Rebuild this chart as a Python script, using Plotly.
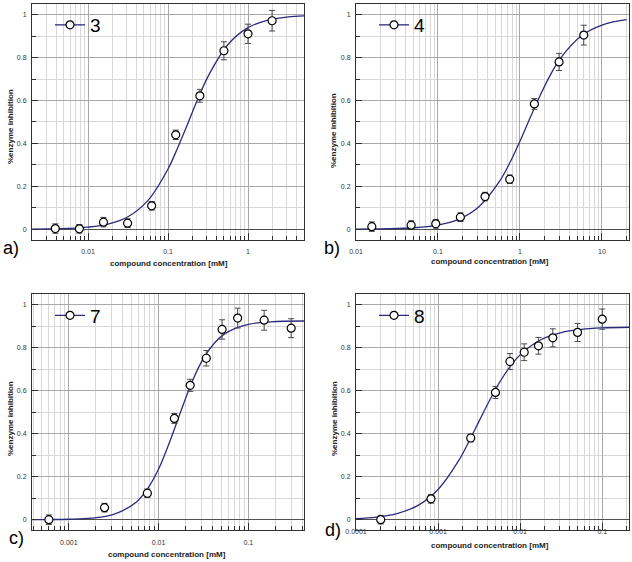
import plotly.graph_objects as go

W, H = 632, 562

# ---------------- data ----------------
# panel a (compound 3)
a_x = [0.0039, 0.0078, 0.0156, 0.03125, 0.0625, 0.125, 0.25, 0.5, 1.0, 2.0]
a_y = [0.003, 0.002, 0.033, 0.028, 0.109, 0.44, 0.622, 0.832, 0.911, 0.972]
a_err = [0.022, 0.02, 0.022, 0.02, 0.02, 0.022, 0.03, 0.042, 0.045, 0.048]
a_curve_x = [0.002, 0.00316, 0.00562, 0.01, 0.0178, 0.0316, 0.0562, 0.1, 0.133,
             0.178, 0.237, 0.316, 0.562, 1.0, 1.78, 3.16, 5.0]
a_curve_y = [0.0007, 0.0016, 0.0039, 0.0097, 0.0241, 0.0583, 0.1346, 0.281, 0.3825,
             0.495, 0.609, 0.7115, 0.861, 0.9396, 0.975, 0.9899, 0.9951]

# panel b (compound 4)
b_x = [0.0156, 0.047, 0.094, 0.1875, 0.375, 0.75, 1.5, 3.0, 6.0]
b_y = [0.012, 0.019, 0.025, 0.056, 0.152, 0.233, 0.584, 0.78, 0.905]
b_err = [0.022, 0.02, 0.02, 0.02, 0.02, 0.02, 0.025, 0.04, 0.046]
b_curve_x = [0.01, 0.0178, 0.0316, 0.0562, 0.1, 0.178, 0.316, 0.562, 0.75,
             1.0, 1.33, 1.78, 2.37, 3.16, 5.62, 10.0, 20.0]
b_curve_y = [0.0006, 0.0014, 0.0033, 0.008, 0.0194, 0.046, 0.105, 0.2225, 0.3086,
             0.41, 0.5197, 0.627, 0.722, 0.80, 0.902, 0.952, 0.9767]

# panel c (compound 7)
c_x = [0.0006, 0.0025, 0.0075, 0.015, 0.0225, 0.034, 0.051, 0.076, 0.15, 0.3]
c_y = [0.0, 0.056, 0.123, 0.471, 0.625, 0.751, 0.885, 0.938, 0.928, 0.891]
c_err = [0.022, 0.02, 0.02, 0.023, 0.028, 0.036, 0.045, 0.046, 0.046, 0.044]
c_curve_x = [0.00039, 0.00056, 0.001, 0.00178, 0.00316, 0.00562, 0.0075, 0.01, 0.0133,
             0.0178, 0.0237, 0.0316, 0.0422, 0.0562, 0.1, 0.178, 0.42]
c_curve_y = [0.0003, 0.0006, 0.002, 0.007, 0.0245, 0.0813, 0.142, 0.2356, 0.3623,
             0.5068, 0.6434, 0.7506, 0.8234, 0.8681, 0.9082, 0.9202, 0.9243]

# panel d (compound 8)
d_x = [0.0002, 0.00082, 0.0025, 0.005, 0.0075, 0.0112, 0.0167, 0.025, 0.05, 0.1]
d_y = [0.0, 0.097, 0.38, 0.592, 0.736, 0.779, 0.809, 0.846, 0.871, 0.933]
d_err = [0.02, 0.02, 0.018, 0.028, 0.037, 0.039, 0.039, 0.042, 0.042, 0.047]
d_curve_x = [0.0001, 0.000178, 0.000316, 0.000562, 0.001, 0.00178, 0.00237, 0.00316,
             0.00422, 0.00562, 0.0075, 0.01, 0.0178, 0.0316, 0.0562, 0.1, 0.212]
d_curve_y = [0.0052, 0.0123, 0.0287, 0.0652, 0.1407, 0.2746, 0.3629, 0.4586,
             0.5534, 0.6393, 0.7109, 0.7667, 0.837, 0.8707, 0.8857, 0.8922, 0.8954]

series_names = ["3", "4", "7", "8"]
panel_letters = ["a)", "b)", "c)", "d)"]

a_xticks = [0.01, 0.1, 1]
a_xticktext = ["0.01", "0.1", "1"]
b_xticks = [0.01, 0.1, 1, 10]
b_xticktext = ["0.01", "0.1", "1", "10"]
c_xticks = [0.001, 0.01, 0.1]
c_xticktext = ["0.001", "0.01", "0.1"]
d_xticks = [0.0001, 0.001, 0.01, 0.1]
d_xticktext = ["0.0001", "0.001", "0.01", "0.1"]

y_ticks = [0, 0.2, 0.4, 0.6, 0.8, 1.0]
y_ticktext = ["0", "0.2", "0.4", "0.6", "0.8", "1"]

x_title = "compound concentration [mM]"
y_title = "%enzyme inhibition"

# ---------------- layout geometry (pixels) ----------------
x_ranges = [[-2.70, 0.70], [-2.0, 1.33], [-3.41, -0.38], [-4.0, -0.674]]
px_dom_x = [(32, 304), (356, 629), (32, 304), (356, 629)]
px_dom_y = [(4, 239.5), (4, 239.5), (294, 530), (294, 530)]

FONT = "Arial, Liberation Sans, Helvetica, sans-serif"
CURVE = "#2b2b7e"
MAJOR_GRID = "#a8a8a8"
MINOR_GRID = "#d8d8d8"
FRAME = "#303030"

panels = [
    (a_x, a_y, a_err, a_curve_x, a_curve_y, a_xticks, a_xticktext),
    (b_x, b_y, b_err, b_curve_x, b_curve_y, b_xticks, b_xticktext),
    (c_x, c_y, c_err, c_curve_x, c_curve_y, c_xticks, c_xticktext),
    (d_x, d_y, d_err, d_curve_x, d_curve_y, d_xticks, d_xticktext),
]

fig = go.Figure()
layout = {}
annotations = []

legend_px = [(50, 25), (374, 25), (50, 315.5), (374, 315.5)]
xtitle_px = [(169, 263), (490, 261), (167, 554), (490, 545)]
ytitle_px = [(10, 127), (334, 131), (10, 419), (334, 419)]
letter_px = [(11, 248), (332, 248), (16, 538), (333, 530)]
x_standoff = [5, 5, 6, -5]

for i, (dx, dy, de, cx, cy, xt, xtt) in enumerate(panels):
    sfx = "" if i == 0 else str(i + 1)
    xa, ya, lg = "x" + sfx, "y" + sfx, "legend" + sfx

    fig.add_trace(go.Scatter(
        x=cx, y=cy, mode="lines",
        line=dict(color=CURVE, width=1.3, shape="spline", smoothing=1.0),
        xaxis=xa, yaxis=ya, showlegend=False, hoverinfo="skip"))
    fig.add_trace(go.Scatter(
        x=dx, y=dy, mode="markers",
        error_y=dict(type="data", array=de, color="#4a4a4a", thickness=1, width=3),
        marker=dict(symbol="circle", size=8, color="white",
                    line=dict(color="black", width=1.2)),
        xaxis=xa, yaxis=ya, showlegend=False))
    fig.add_trace(go.Scatter(
        x=[None], y=[None], mode="lines+markers", name=series_names[i],
        line=dict(color=CURVE, width=1.3),
        marker=dict(symbol="circle", size=8, color="white",
                    line=dict(color="black", width=1.2)),
        xaxis=xa, yaxis=ya, legend=lg, showlegend=True))

    x0, x1 = px_dom_x[i]
    y0, y1 = px_dom_y[i]
    layout["xaxis" + sfx] = dict(
        type="log", range=x_ranges[i], automargin=False,
        domain=[x0 / W, x1 / W], anchor=ya,
        tickmode="array", tickvals=xt, ticktext=xtt,
        ticks="inside", ticklen=7, tickcolor=FRAME, tickwidth=1,
        ticklabelstandoff=x_standoff[i],
        tickfont=dict(family=FONT, size=7, color="#333"),
        showline=True, mirror=True, linecolor=FRAME, linewidth=1,
        showgrid=True, gridcolor=MAJOR_GRID, gridwidth=1,
        minor=dict(dtick="D1", ticks="inside", ticklen=4, tickcolor=FRAME,
                   showgrid=True, gridcolor=MINOR_GRID, gridwidth=1),
        zeroline=False, fixedrange=True)
    layout["yaxis" + sfx] = dict(
        range=[-0.048, 1.05], automargin=False,
        domain=[1 - y1 / H, 1 - y0 / H], anchor=xa,
        tickmode="array", tickvals=y_ticks, ticktext=y_ticktext,
        ticks="inside", ticklen=6, tickcolor=FRAME, tickwidth=1,
        ticklabelstandoff=3,
        tickfont=dict(family=FONT, size=7, color="#333"),
        showline=True, mirror=True, linecolor=FRAME, linewidth=1,
        showgrid=True, gridcolor=MAJOR_GRID, gridwidth=1,
        minor=dict(dtick=0.1, tick0=0, ticks="inside", ticklen=4, tickcolor=FRAME,
                   showgrid=True, gridcolor=MINOR_GRID, gridwidth=1),
        zeroline=True, zerolinecolor="#505050", zerolinewidth=1, fixedrange=True)

    lx, ly = legend_px[i]
    layout[lg] = dict(
        x=lx / W, y=1 - ly / H, xanchor="left", yanchor="middle",
        bgcolor="rgba(0,0,0,0)", borderwidth=0,
        font=dict(family=FONT, size=19, color="black"))

    tx, ty = xtitle_px[i]
    annotations.append(dict(
        text="<b>" + x_title + "</b>", x=tx / W, y=1 - ty / H, xref="paper", yref="paper",
        xanchor="center", yanchor="middle", showarrow=False,
        font=dict(family=FONT, size=8, color="#222")))
    tx, ty = ytitle_px[i]
    annotations.append(dict(
        text="<b>" + y_title + "</b>", x=tx / W, y=1 - ty / H, xref="paper", yref="paper",
        xanchor="center", yanchor="middle", showarrow=False, textangle=-90,
        font=dict(family=FONT, size=8, color="#222")))
    tx, ty = letter_px[i]
    annotations.append(dict(
        text=panel_letters[i], x=tx / W, y=1 - ty / H, xref="paper", yref="paper",
        xanchor="center", yanchor="middle", showarrow=False,
        font=dict(family=FONT, size=18, color="black")))

fig.update_layout(
    width=W, height=H,
    margin=dict(l=0, r=0, t=0, b=0, autoexpand=False),
    paper_bgcolor="white", plot_bgcolor="white",
    annotations=annotations,
    **layout)

fig.write_html("out.html", config={"displayModeBar": False},
               post_script="document.body.style.margin='0';")
